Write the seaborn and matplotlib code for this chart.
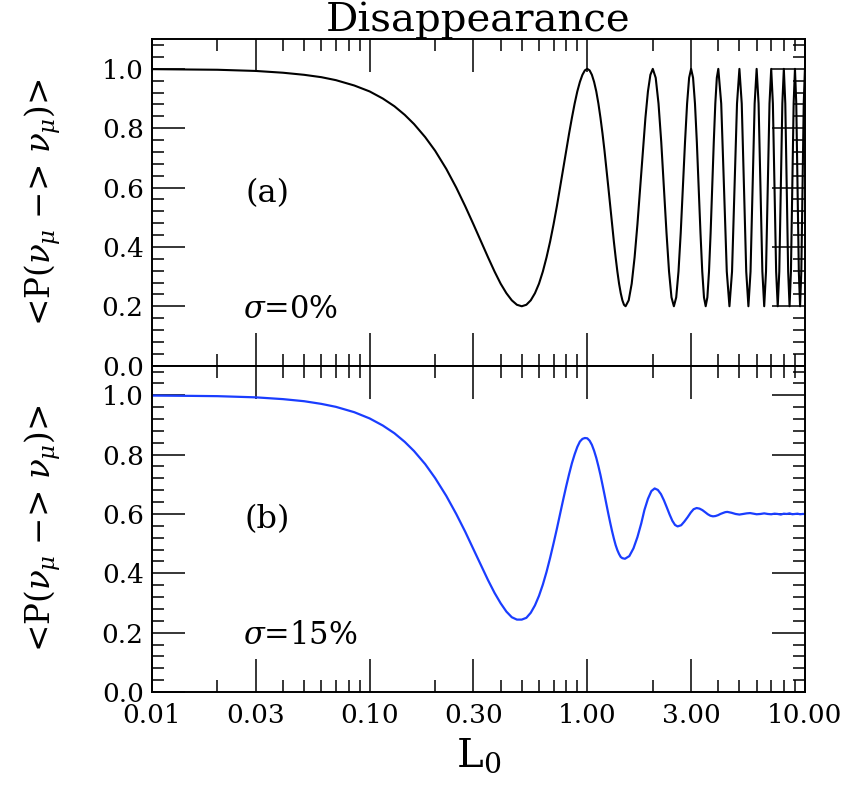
import matplotlib
matplotlib.use("Agg")
import matplotlib.pyplot as plt
import matplotlib.ticker as mticker
import seaborn as sns

# Values (L0, probability)
L_top = [0.01, 0.015, 0.02, 0.03, 0.04, 0.05, 0.06, 0.07, 0.085, 0.10, 0.115, 0.13, 0.145, 0.16, 0.18,
         0.200, 0.225, 0.250, 0.275, 0.300, 0.325, 0.350, 0.375, 0.400, 0.425, 0.450, 0.475,
         0.500, 0.525, 0.550, 0.575, 0.600, 0.625, 0.650, 0.675, 0.700, 0.725, 0.750, 0.775,
         0.800, 0.825, 0.850, 0.875, 0.900, 0.925, 0.950, 0.975,
         1.000, 1.025, 1.050, 1.075, 1.100, 1.125, 1.150, 1.175, 1.200, 1.225, 1.250, 1.275,
         1.300, 1.325, 1.350, 1.375, 1.400, 1.425, 1.450, 1.475,
         1.50, 1.55, 1.60, 1.65, 1.70, 1.75, 1.80, 1.85, 1.90, 1.95,
         2.0000, 2.0625, 2.1250, 2.1875, 2.2500, 2.3125, 2.3750, 2.4375,
         2.5000, 2.5625, 2.6250, 2.6875, 2.7500, 2.8125, 2.8750, 2.9375,
         3.0000, 3.0625, 3.1250, 3.1875, 3.2500, 3.3125, 3.3750, 3.4375,
         3.5000, 3.5625, 3.6250, 3.6875, 3.7500, 3.8125, 3.8750, 3.9375,
         4.000, 4.125, 4.250, 4.375, 4.500, 4.625, 4.750, 4.875,
         5.000, 5.125, 5.250, 5.375, 5.500, 5.625, 5.750, 5.875,
         6.000, 6.125, 6.250, 6.375, 6.500, 6.625, 6.750, 6.875,
         7.000, 7.125, 7.250, 7.375, 7.500, 7.625, 7.750, 7.875,
         8.000, 8.125, 8.250, 8.375, 8.500, 8.625, 8.750, 8.875,
         9.000, 9.125, 9.250, 9.375, 9.500, 9.625, 9.750, 9.875,
         10.000]
P_top = [0.999, 0.998, 0.997, 0.993, 0.987, 0.980, 0.972, 0.962, 0.944, 0.924, 0.900, 0.874, 0.845, 0.814, 0.770,
         0.724, 0.663, 0.600, 0.537, 0.476, 0.418, 0.365, 0.317, 0.276, 0.244, 0.220, 0.205,
         0.200, 0.205, 0.220, 0.244, 0.276, 0.317, 0.365, 0.418, 0.476, 0.537, 0.600, 0.663,
         0.724, 0.782, 0.835, 0.883, 0.924, 0.956, 0.980, 0.995,
         1.000, 0.995, 0.980, 0.956, 0.924, 0.883, 0.835, 0.782, 0.724, 0.663, 0.600, 0.537,
         0.476, 0.418, 0.365, 0.317, 0.276, 0.244, 0.220, 0.205,
         0.200, 0.220, 0.276, 0.365, 0.476, 0.600, 0.724, 0.835, 0.924, 0.980,
         1.000, 0.970, 0.883, 0.753, 0.600, 0.447, 0.317, 0.230,
         0.200, 0.230, 0.317, 0.447, 0.600, 0.753, 0.883, 0.970,
         1.000, 0.970, 0.883, 0.753, 0.600, 0.447, 0.317, 0.230,
         0.200, 0.230, 0.317, 0.447, 0.600, 0.753, 0.883, 0.970,
         1.000, 0.883, 0.600, 0.317, 0.200, 0.317, 0.600, 0.883,
         1.000, 0.883, 0.600, 0.317, 0.200, 0.317, 0.600, 0.883,
         1.000, 0.883, 0.600, 0.317, 0.200, 0.317, 0.600, 0.883,
         1.000, 0.883, 0.600, 0.317, 0.200, 0.317, 0.600, 0.883,
         1.000, 0.883, 0.600, 0.317, 0.200, 0.317, 0.600, 0.883,
         1.000, 0.883, 0.600, 0.317, 0.200, 0.317, 0.600, 0.883,
         1.000]

L_bot = [0.01, 0.015, 0.02, 0.03, 0.04, 0.05, 0.06, 0.07, 0.085, 0.10, 0.115, 0.13, 0.145, 0.16, 0.18,
         0.200, 0.225, 0.250, 0.275, 0.300, 0.325, 0.350, 0.375, 0.400, 0.425, 0.450, 0.475,
         0.500, 0.525, 0.550, 0.575, 0.600, 0.625, 0.650, 0.675, 0.700, 0.725, 0.750, 0.775,
         0.800, 0.825, 0.850, 0.875, 0.900, 0.925, 0.950, 0.975,
         1.000, 1.025, 1.050, 1.075, 1.100, 1.125, 1.150, 1.175, 1.200, 1.225, 1.250, 1.275,
         1.300, 1.325, 1.350, 1.375, 1.400, 1.425, 1.450, 1.490,
         1.56, 1.63, 1.70, 1.77, 1.83, 1.90, 1.97, 2.04,
         2.11, 2.18, 2.25, 2.32, 2.39, 2.46, 2.53, 2.60,
         2.70, 2.79, 2.89, 2.99, 3.08, 3.18,
         3.28, 3.38, 3.48, 3.58, 3.68, 3.78,
         3.88, 3.99, 4.09, 4.19, 4.30, 4.40,
         4.60, 4.80, 5.00, 5.20, 5.40, 5.60, 5.80, 6.00,
         6.25, 6.50, 6.75, 7.00, 7.25, 7.50, 7.75, 8.00,
         8.25, 8.50, 8.75, 9.00, 9.25, 9.50, 9.75, 10.00]
P_bot = [0.999, 0.998, 0.997, 0.993, 0.987, 0.980, 0.971, 0.961, 0.943, 0.922, 0.898, 0.872, 0.843, 0.812, 0.768,
         0.721, 0.661, 0.600, 0.540, 0.481, 0.427, 0.377, 0.334, 0.299, 0.271, 0.252, 0.244,
         0.244, 0.250, 0.267, 0.292, 0.324, 0.362, 0.405, 0.452, 0.501, 0.550, 0.600, 0.648,
         0.693, 0.734, 0.771, 0.801, 0.826, 0.844, 0.853, 0.856,
         0.855, 0.847, 0.833, 0.813, 0.789, 0.761, 0.731, 0.698, 0.665, 0.632, 0.600, 0.570,
         0.542, 0.517, 0.495, 0.478, 0.465, 0.455, 0.451, 0.449,
         0.458, 0.484, 0.522, 0.568, 0.613, 0.651, 0.677, 0.686,
         0.681, 0.667, 0.646, 0.622, 0.598, 0.577, 0.563, 0.558,
         0.562, 0.574, 0.589, 0.605, 0.616, 0.620,
         0.618, 0.613, 0.606, 0.599, 0.594, 0.592,
         0.593, 0.596, 0.600, 0.603, 0.606, 0.607,
         0.604, 0.600, 0.598, 0.600, 0.602, 0.603, 0.601, 0.599,
         0.600, 0.602, 0.600, 0.599, 0.601, 0.600, 0.598, 0.601,
         0.600, 0.602, 0.599, 0.600, 0.601, 0.599, 0.600, 0.600]

x_major = [0.01, 0.03, 0.1, 0.3, 1.0, 3.0, 10.0]
x_labels = ["0.01", "0.03", "0.10", "0.30", "1.00", "3.00", "10.00"]
x_minor = [0.02, 0.04, 0.05, 0.06, 0.07, 0.08, 0.09,
           0.2, 0.4, 0.5, 0.6, 0.7, 0.8, 0.9,
           2, 4, 5, 6, 7, 8, 9]
y_major = [0.0, 0.2, 0.4, 0.6, 0.8, 1.0]
y_minor = [0.04, 0.08, 0.12, 0.16, 0.24, 0.28, 0.32, 0.36, 0.44, 0.48, 0.52, 0.56,
           0.64, 0.68, 0.72, 0.76, 0.84, 0.88, 0.92, 0.96, 1.04, 1.08]

sns.set_style("ticks")
plt.rcParams['font.family'] = ['DejaVu Serif']
plt.rcParams['mathtext.fontset'] = 'dejavuserif'
plt.rcParams['text.color'] = 'black'
plt.rcParams['axes.labelcolor'] = 'black'
plt.rcParams['xtick.color'] = 'black'
plt.rcParams['ytick.color'] = 'black'

fig = plt.figure(figsize=(8.48, 8.0), dpi=100)
ax1 = fig.add_axes([0.1792, 0.543, 0.770, 0.408])
ax2 = fig.add_axes([0.1792, 0.135, 0.770, 0.408])

sns.lineplot(x=L_top, y=P_top, ax=ax1, color="black", lw=1.5, estimator=None, sort=False)
sns.lineplot(x=L_bot, y=P_bot, ax=ax2, color="#1a3dff", lw=1.6, estimator=None, sort=False)

ylab = r"<P($\nu_\mu$ $-$> $\nu_\mu$)>"
for ax in (ax1, ax2):
    ax.set_xscale("log")
    ax.set_xlim(0.01, 10)
    ax.set_ylim(0, 1.1)
    ax.set_xticks(x_major)
    ax.set_xticks(x_minor, minor=True)
    ax.set_yticks(y_major)
    ax.set_yticks(y_minor, minor=True)
    ax.yaxis.set_major_formatter(mticker.FormatStrFormatter("%.1f"))
    ax.tick_params(which="both", direction="in", top=True, right=True,
                   color="black", labelcolor="black", labelsize=19, pad=6)
    ax.tick_params(which="major", length=24, width=1.1)
    ax.tick_params(which="minor", length=8.5, width=1.1)
    for s in ax.spines.values():
        s.set_linewidth(1.4)
        s.set_color("black")
    ax.set_ylabel(ylab, fontsize=23.5)
    ax.yaxis.set_label_coords(-0.137, 0.5)

ax1.set_xticklabels([])
ax1.xaxis.set_minor_formatter(mticker.NullFormatter())
ax2.set_xticklabels(x_labels)
ax2.xaxis.set_minor_formatter(mticker.NullFormatter())
ax2.tick_params(axis="x", pad=8)

ax1.set_title("Disappearance", fontsize=29, pad=3)
ax2.set_xlabel(r"L$_0$", fontsize=29, labelpad=6)

ax1.text(0.034, 0.58, "(a)", fontsize=23, ha="center", va="center")
ax1.text(0.0262, 0.19, r"$\sigma$=0%", fontsize=22, ha="left", va="center")
ax2.text(0.034, 0.58, "(b)", fontsize=23, ha="center", va="center")
ax2.text(0.0262, 0.19, r"$\sigma$=15%", fontsize=22, ha="left", va="center")

fig.savefig("out.png", dpi=100)
